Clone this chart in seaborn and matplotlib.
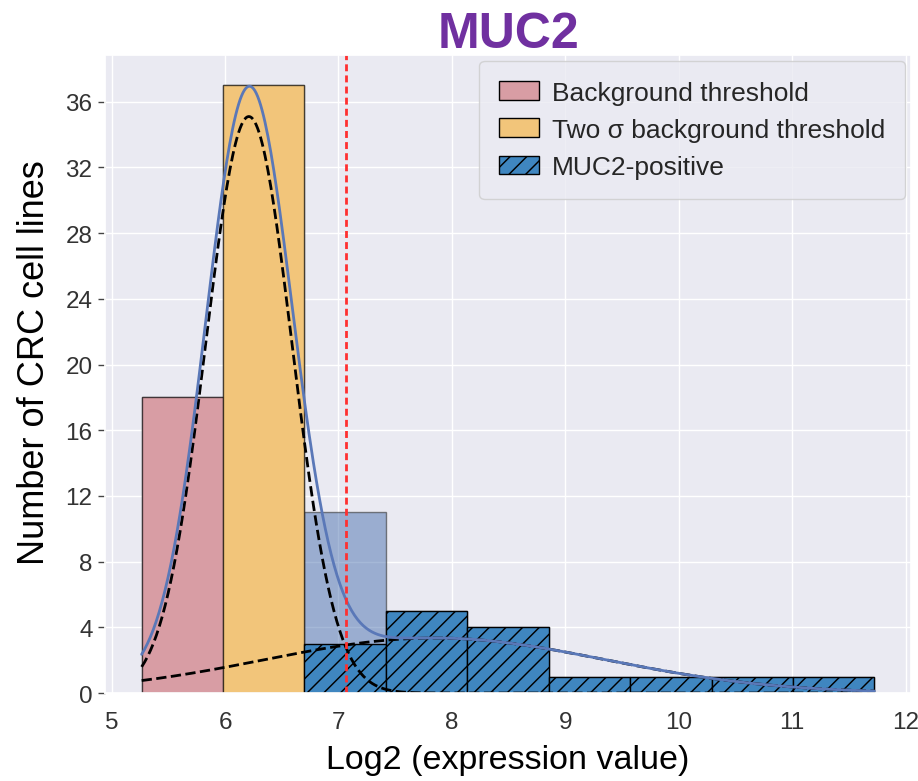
import numpy as np
import pandas as pd
import seaborn as sns
import matplotlib.pyplot as plt
from matplotlib.patches import Patch

# Histogram bins (log2 expression) and counts per group
bin_edges = [5.265, 5.983, 6.700, 7.418, 8.136, 8.854, 9.571, 10.289, 11.007, 11.725]
all_counts = [18, 37, 11, 5, 4, 1, 1, 1, 1]
background_counts = [18, 0, 0, 0, 0, 0, 0, 0, 0]
two_sigma_counts = [0, 37, 0, 0, 0, 0, 0, 0, 0]
positive_counts = [0, 0, 3, 5, 4, 1, 1, 1, 1]

# Two-component Gaussian mixture, scaled to counts per bin
mixture_means = [6.21, 7.85]
mixture_sds = [0.38, 1.50]
mixture_peaks = [35.1, 3.35]

threshold = 7.07
gene = "MUC2"
legend_labels = ["Background threshold", "Two \u03c3 background threshold", f"{gene}-positive"]

DPI = 150
S = 100 / DPI  # point sizes below are given for a 100-dpi canvas

sns.set_theme(style="darkgrid")
plt.rcParams["font.family"] = ["Liberation Sans", "DejaVu Sans"]
plt.rcParams["hatch.linewidth"] = 0.7
plt.rcParams["axes.linewidth"] = 1.25 * S

edges = np.array(bin_edges)
centers = (edges[:-1] + edges[1:]) / 2
df = pd.DataFrame({
    "x": centers,
    "all": all_counts,
    "bg": background_counts,
    "two": two_sigma_counts,
    "pos": positive_counts,
})

fig = plt.figure(figsize=(918 / DPI, 782 / DPI), dpi=DPI)
ax = fig.add_axes([0.1144, 0.1125, 0.878, 0.816])

blue_all = "#4c72b0"
red_bg = "#d89da4"
orange = "#f2c57a"
pos_blue = "#3f86c0"
hatch = "///"

sns.histplot(data=df, x="x", weights="all", bins=list(bin_edges), color=blue_all, alpha=0.5,
             edgecolor=(0.2, 0.2, 0.2, 0.6), linewidth=1.0 * S, ax=ax)
sns.histplot(data=df, x="x", weights="bg", bins=list(bin_edges), color=red_bg, alpha=1.0,
             edgecolor=(0, 0, 0, 0.6), linewidth=1.0 * S, ax=ax)
sns.histplot(data=df, x="x", weights="two", bins=list(bin_edges), color=orange, alpha=1.0,
             edgecolor=(0, 0, 0, 0.6), linewidth=1.0 * S, ax=ax)
sns.histplot(data=df, x="x", weights="pos", bins=list(bin_edges), color=pos_blue, alpha=1.0,
             edgecolor="black", linewidth=1.0 * S, hatch=hatch, ax=ax)

# Hide zero-height bars
for p in ax.patches:
    if p.get_height() == 0:
        p.set_visible(False)

# Mixture components and their sum
xs = np.linspace(edges[0], edges[-1], 500)
comps = [pk * np.exp(-0.5 * ((xs - m) / s) ** 2)
         for pk, m, s in zip(mixture_peaks, mixture_means, mixture_sds)]
total = np.sum(comps, axis=0)
curve_df = pd.DataFrame({"x": xs, "total": total, "c0": comps[0], "c1": comps[1]})
sns.lineplot(data=curve_df, x="x", y="c0", color="black", lw=2 * S, linestyle="--", ax=ax)
sns.lineplot(data=curve_df, x="x", y="c1", color="black", lw=2 * S, linestyle="--", ax=ax)
sns.lineplot(data=curve_df, x="x", y="total", color="#5a78b8", lw=2 * S, ax=ax)

ax.axvline(threshold, color="#ff3030", lw=2 * S, linestyle=(0, (2.5, 1.5)))

span = edges[-1] - edges[0]
ax.set_xlim(edges[0] - 0.05 * span, edges[-1] + 0.05 * span)
ax.set_ylim(0, max(all_counts) * 1.05)
ax.set_xticks(range(5, 13))
ax.set_yticks(range(0, 37, 4))
ax.grid(True, color="white", linewidth=1.0 * S)
ax.tick_params(axis="both", labelsize=17.5 * S, labelcolor="#333333", pad=4 * S)
ax.tick_params(axis="y", left=True, length=5 * S, width=1 * S, color="#444444")

ax.set_xlabel("Log2 (expression value)", fontsize=24.5 * S, labelpad=8 * S, color="black")
ax.set_ylabel("Number of CRC cell lines", fontsize=26 * S, labelpad=10 * S, color="black")
ax.yaxis.label.set_y(0.52)
ax.set_title(gene, fontsize=36 * S, fontweight="bold", color="#7030a0", pad=6 * S)

handles = [
    Patch(facecolor=red_bg, edgecolor="black", linewidth=1.0 * S),
    Patch(facecolor=orange, edgecolor="black", linewidth=1.0 * S),
    Patch(facecolor=pos_blue, edgecolor="black", hatch=hatch, linewidth=1.0 * S),
]
leg = ax.legend(handles, legend_labels, loc="upper right", fontsize=19 * S,
                borderaxespad=0.23, borderpad=0.75, labelspacing=0.5,
                handlelength=1.5, handletextpad=0.5)
leg.get_frame().set_linewidth(1.0 * S)

fig.savefig("out.png", dpi=DPI)
